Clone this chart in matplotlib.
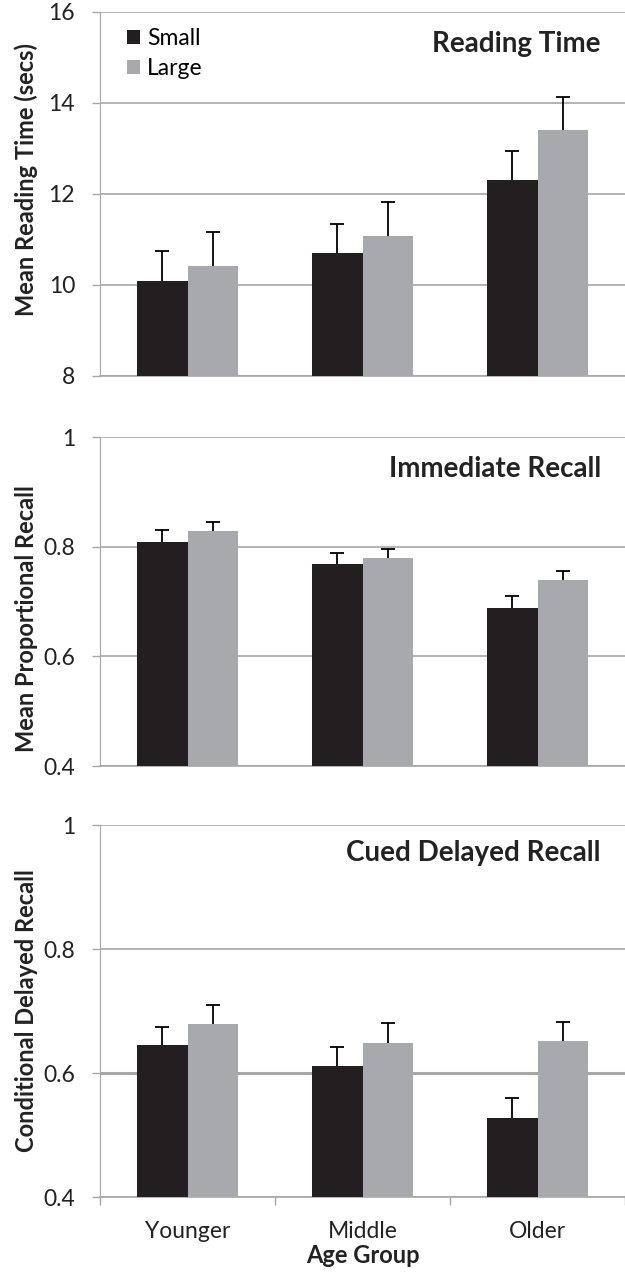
import matplotlib
matplotlib.use("Agg")
import matplotlib.pyplot as plt
import numpy as np

plt.rcParams['font.family'] = ['Lato', 'DejaVu Sans']

# data
groups = ["Younger", "Middle", "Older"]
sizes = ["Small", "Large"]

rt_small = [10.09, 10.71, 12.30]
rt_small_err = [0.66, 0.64, 0.65]
rt_large = [10.42, 11.08, 13.40]
rt_large_err = [0.75, 0.75, 0.74]

ir_small = [0.809, 0.769, 0.689]
ir_small_err = [0.021, 0.020, 0.021]
ir_large = [0.829, 0.779, 0.739]
ir_large_err = [0.016, 0.016, 0.016]

cdr_small = [0.645, 0.611, 0.528]
cdr_small_err = [0.030, 0.031, 0.031]
cdr_large = [0.679, 0.649, 0.652]
cdr_large_err = [0.031, 0.031, 0.030]

c_small = '#231f20'
c_large = '#a7a9ac'
grid_c = '#a6a6a6'
txt_c = '#222222'

fig = plt.figure(figsize=(6.25, 12.72), dpi=100)
ax1 = fig.add_axes([0.16, 1 - 376 / 1272, 0.84, 364 / 1272])
ax2 = fig.add_axes([0.16, 1 - 766 / 1272, 0.84, 329 / 1272])
ax3 = fig.add_axes([0.16, 1 - 1197 / 1272, 0.84, 372 / 1272])

panels = [
    (ax1, rt_small, rt_small_err, rt_large, rt_large_err, (8, 16), [8, 10, 12, 14, 16],
     ['8', '10', '12', '14', '16'], "Mean Reading Time (secs)", "Reading Time", 0.912, 0.54),
    (ax2, ir_small, ir_small_err, ir_large, ir_large_err, (0.4, 1.0), [0.4, 0.6, 0.8, 1.0],
     ['0.4', '0.6', '0.8', '1'], "Mean Proportional Recall", "Immediate Recall", 0.903, 0.447),
    (ax3, cdr_small, cdr_small_err, cdr_large, cdr_large_err, (0.4, 1.0), [0.4, 0.6, 0.8, 1.0],
     ['0.4', '0.6', '0.8', '1'], "Conditional Delayed Recall", "Cued Delayed Recall", 0.925, 0.5),
]

x = np.arange(len(groups))
w = 0.286

for ax, s, se, l, le, ylim, yt, ytl, ylab, title, ty, ly in panels:
    ax.bar(x - w / 2, s, w, color=c_small, zorder=3, label=sizes[0])
    ax.bar(x + w / 2, l, w, color=c_large, zorder=3, label=sizes[1])
    for xs, vals, errs in [(x - w / 2, s, se), (x + w / 2, l, le)]:
        eb = ax.errorbar(xs, vals, yerr=[np.zeros(3), errs], fmt='none', ecolor='black',
                         elinewidth=1.3, capsize=5, capthick=1.3, zorder=4)
        # only the upper cap, like the original
        eb[1][0].set_visible(False)
    ax.set_xlim(-0.5, 2.5)
    ax.set_ylim(*ylim)
    ax.set_yticks(yt)
    ax.set_yticklabels(ytl)
    ax.yaxis.grid(True, color=grid_c, linewidth=1.2, zorder=0)
    ax.tick_params(axis='y', length=6, width=1, color=grid_c, labelsize=16.5, pad=12,
                   labelcolor=txt_c)
    for sp in ['top', 'right']:
        ax.spines[sp].set_visible(False)
    ax.spines['left'].set_color(grid_c)
    ax.spines['bottom'].set_color(grid_c)
    ax.spines['bottom'].set_linewidth(1.2)
    ax.set_ylabel(ylab, fontsize=17, fontweight='bold', color=txt_c)
    ax.yaxis.set_label_coords(-0.118, ly)
    ax.text(0.954, ty, title, transform=ax.transAxes, ha='right', va='center',
            fontsize=20, fontweight='bold', color=txt_c)

for ax in (ax1, ax2):
    ax.set_xticks([])

ax3.set_xticks([-0.5, 0.5, 1.5, 2.5], minor=False)
ax3.set_xticklabels([])
ax3.set_xticks(x, minor=True)
ax3.set_xticklabels(groups, minor=True)
ax3.tick_params(axis='x', which='major', length=6, width=1, color=grid_c, direction='out')
ax3.tick_params(axis='x', which='minor', length=0, labelsize=16.5, pad=17, labelcolor=txt_c)
ax3.set_xlabel("Age Group", fontsize=17, fontweight='bold', color=txt_c, labelpad=2)
ax3.get_ygridlines()[1].set_linewidth(2.2)

ax1.legend(loc='upper left', bbox_to_anchor=(0.02, 1.0), frameon=False, fontsize=16.5,
           handlelength=0.6, handleheight=0.6, handletextpad=0.3, labelspacing=0.4,
           borderaxespad=0.3)

fig.savefig('out.png', dpi=100)
